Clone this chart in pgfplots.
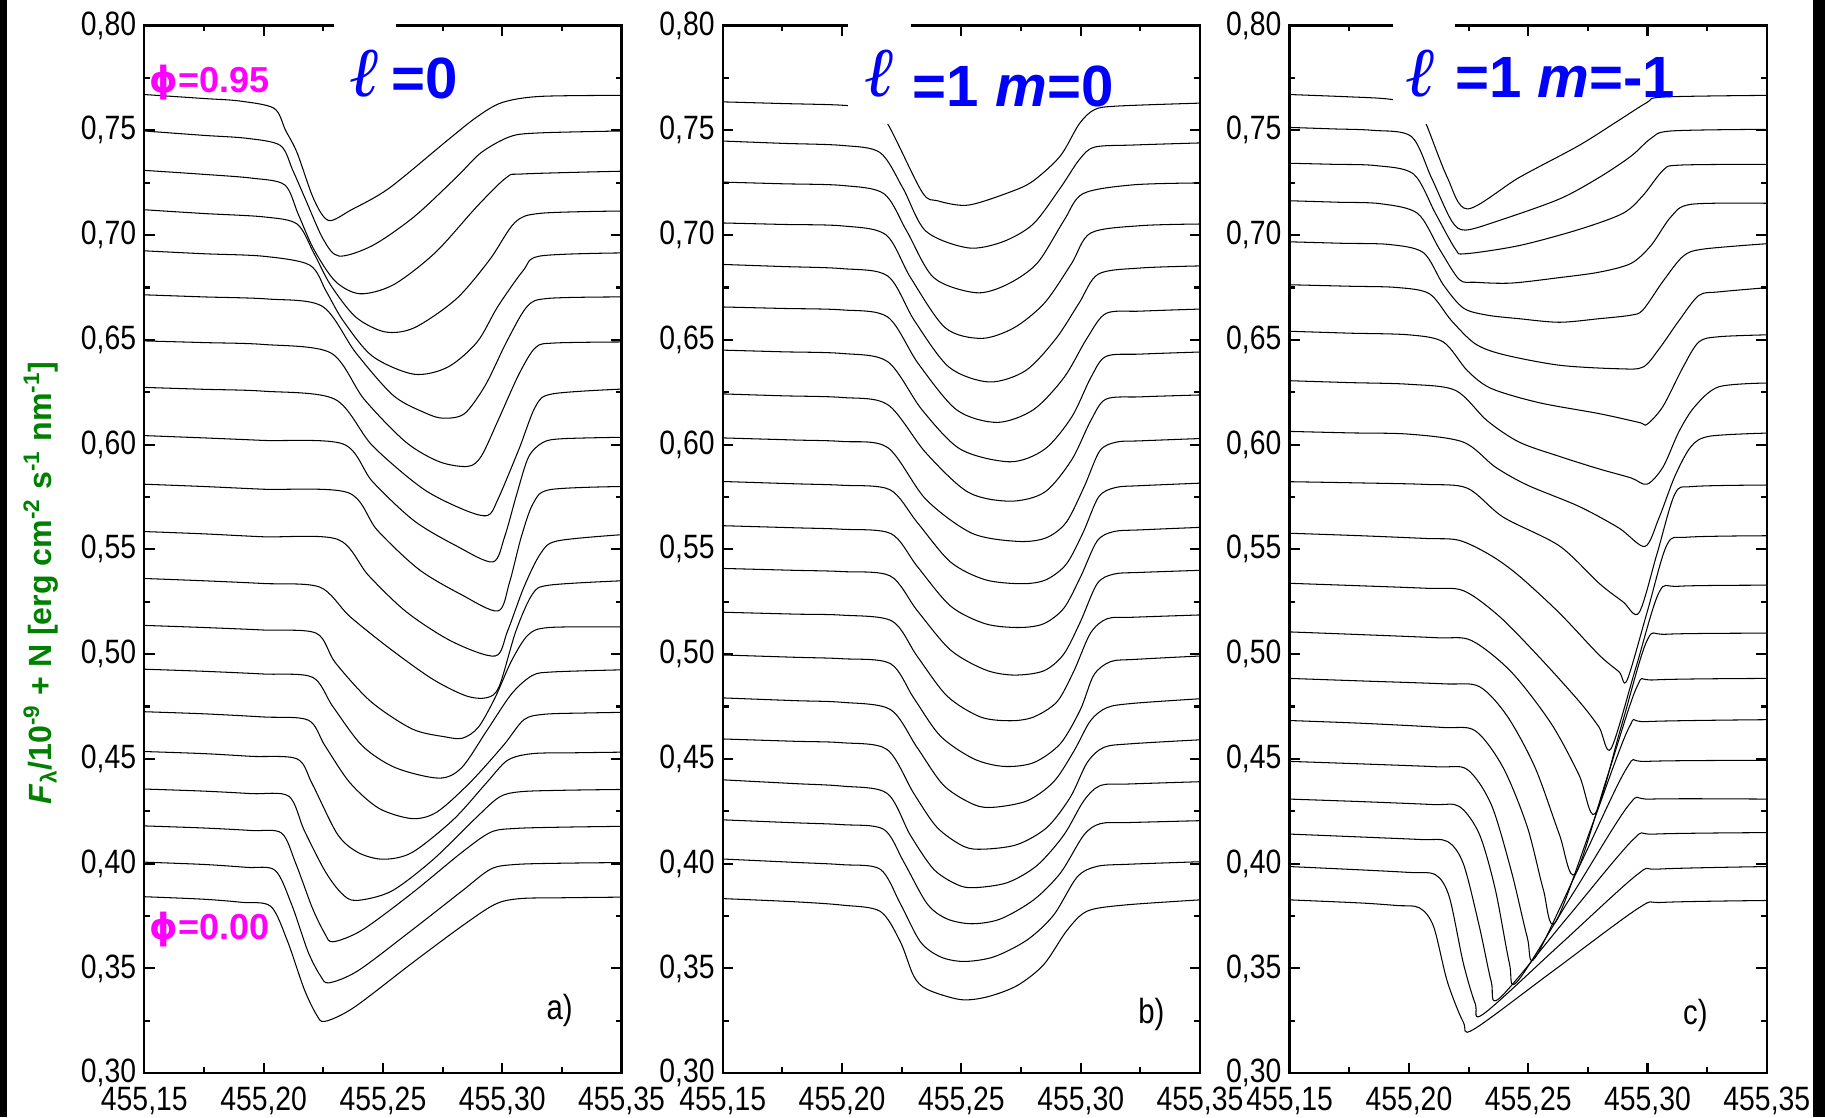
\documentclass[border=0pt]{standalone}
\usepackage{fontspec}
\setmainfont{Liberation Sans}[FakeStretch=0.84]
\newfontfamily\tf{Liberation Sans}
\newfontfamily\ellf{Liberation Serif}
\newfontfamily\djv{DejaVu Sans}
\usepackage{pgfplots}
\pgfplotsset{compat=1.18}
\definecolor{ylab}{RGB}{0,128,0}
\definecolor{mag}{RGB}{255,0,255}
\definecolor{tblue}{RGB}{0,0,255}
\pgfplotsset{
 panel/.style={
  scale only axis, width=205pt, height=450pt, anchor=south west,
  xmin=455.15, xmax=455.35, ymin=0.30, ymax=0.80,
  xtick={455.15,455.20,455.25,455.30,455.35},
  ytick={0.30,0.35,0.40,0.45,0.50,0.55,0.60,0.65,0.70,0.75,0.80},
  minor x tick num=1, minor y tick num=1,
  tick align=inside,
  major tick length=4.5pt, minor tick length=2.5pt,
  axis line style={line width=1pt},
  tick style={line width=0.9pt, black},
  scaled ticks=false,
  /pgf/number format/assume math mode=true,
  xticklabel style={yshift=-2.5pt, /pgf/number format/.cd, fixed, fixed zerofill, precision=2, use comma, 1000 sep={}},
  yticklabel style={/pgf/number format/.cd, fixed, fixed zerofill, precision=2, use comma},
  tick label style={font=\fontsize{14.5}{16}\selectfont},
 },
 prof/.style={black, line width=0.45pt, smooth, tension=0.5, mark=none},
}
\begin{document}
\begin{tikzpicture}
\path[use as bounding box] (0,0) rectangle (784pt,480pt);
\fill[black] (0,0) rectangle (3pt,480pt);
\fill[black] (779pt,0pt) rectangle (784pt,480pt);
% ---------------- panel a
\begin{axis}[panel, at={(62pt,19pt)}]
\addplot[prof] coordinates {(455.15,0.3842) (455.175,0.3830) (455.191,0.3815) (455.203,0.3796) (455.21,0.3630) (455.217,0.3401) (455.2222,0.3278) (455.2257,0.3247) (455.2378,0.3313) (455.2622,0.3525) (455.283,0.3701) (455.297,0.3806) (455.3074,0.3833) (455.325,0.3837) (455.35,0.3840)};
\addplot[prof] coordinates {(455.15,0.4007) (455.175,0.3996) (455.193,0.3982) (455.2048,0.3968) (455.2117,0.3806) (455.2187,0.3577) (455.2239,0.3463) (455.2274,0.3431) (455.2396,0.3489) (455.2622,0.3683) (455.283,0.3868) (455.2952,0.3974) (455.3057,0.3996) (455.325,0.4002) (455.35,0.4005)};
\addplot[prof] coordinates {(455.15,0.4180) (455.175,0.4170) (455.195,0.4158) (455.2075,0.4146) (455.2135,0.4000) (455.2204,0.3789) (455.2257,0.3665) (455.2291,0.3627) (455.2413,0.3683) (455.2622,0.3859) (455.283,0.4053) (455.2952,0.4150) (455.3057,0.4168) (455.325,0.4174) (455.35,0.4178)};
\addplot[prof] coordinates {(455.15,0.4356) (455.175,0.4346) (455.195,0.4334) (455.2105,0.4322) (455.217,0.4159) (455.2257,0.3965) (455.2326,0.3859) (455.2387,0.3824) (455.2535,0.3868) (455.2709,0.4018) (455.2883,0.4211) (455.2987,0.4317) (455.3074,0.4343) (455.325,0.4350) (455.35,0.4354)};
\addplot[prof] coordinates {(455.15,0.4535) (455.175,0.4525) (455.195,0.4512) (455.214,0.4500) (455.2204,0.4380) (455.2309,0.4141) (455.2396,0.4053) (455.25,0.4021) (455.2622,0.4053) (455.2796,0.4211) (455.2935,0.4387) (455.3022,0.4493) (455.3126,0.4525) (455.33,0.4529) (455.35,0.4532)};
\addplot[prof] coordinates {(455.15,0.4725) (455.175,0.4715) (455.2,0.4700) (455.2187,0.4685) (455.2257,0.4563) (455.2361,0.4387) (455.2483,0.4264) (455.2622,0.4215) (455.2726,0.4246) (455.2865,0.4387) (455.3004,0.4563) (455.3091,0.4687) (455.3178,0.4713) (455.335,0.4719) (455.35,0.4722)};
\addplot[prof] coordinates {(455.15,0.4928) (455.175,0.4918) (455.2,0.4905) (455.2204,0.4890) (455.2290,0.4750) (455.2413,0.4563) (455.2552,0.4458) (455.2735,0.4408) (455.283,0.4458) (455.2935,0.4634) (455.3039,0.4810) (455.3126,0.4898) (455.3213,0.4915) (455.35,0.4925)};
\addplot[prof] coordinates {(455.15,0.5137) (455.175,0.5127) (455.2,0.5115) (455.222,0.5100) (455.2300,0.4960) (455.2448,0.4775) (455.2622,0.4643) (455.2761,0.4605) (455.2834,0.4599) (455.29,0.4651) (455.297,0.4792) (455.3039,0.4968) (455.3109,0.5092) (455.3196,0.5127) (455.35,0.5130)};
\addplot[prof] coordinates {(455.15,0.5361) (455.175,0.5350) (455.2,0.5337) (455.2235,0.5320) (455.2361,0.5180) (455.2535,0.5021) (455.2709,0.4880) (455.2848,0.4801) (455.2935,0.4792) (455.2987,0.4845) (455.3057,0.5109) (455.3126,0.5285) (455.3196,0.5329) (455.35,0.5350)};
\addplot[prof] coordinates {(455.15,0.5585) (455.175,0.5574) (455.2,0.5560) (455.231,0.5548) (455.2440,0.5375) (455.2600,0.5200) (455.2790,0.5060) (455.2970,0.4991) (455.3022,0.5109) (455.3091,0.5320) (455.316,0.5479) (455.323,0.5540) (455.35,0.5570)};
\addplot[prof] coordinates {(455.15,0.5811) (455.175,0.5800) (455.2,0.5787) (455.2353,0.5771) (455.2476,0.5592) (455.265,0.5405) (455.2827,0.5285) (455.2982,0.5206) (455.3030,0.5340) (455.3080,0.5560) (455.3130,0.5720) (455.3200,0.5785) (455.35,0.5800)};
\addplot[prof] coordinates {(455.15,0.6043) (455.175,0.6032) (455.2,0.6020) (455.2333,0.6003) (455.2456,0.5824) (455.263,0.5637) (455.2807,0.5517) (455.296,0.5440) (455.3010,0.5560) (455.3060,0.5760) (455.3110,0.5940) (455.3170,0.6010) (455.3250,0.6028) (455.35,0.6035)};
\addplot[prof] coordinates {(455.15,0.6273) (455.175,0.6264) (455.2,0.6255) (455.2298,0.6217) (455.2456,0.5995) (455.2667,0.5790) (455.2842,0.5688) (455.2939,0.5662) (455.2982,0.5739) (455.307,0.5978) (455.314,0.6183) (455.321,0.6242) (455.35,0.6265)};
\addplot[prof] coordinates {(455.15,0.6495) (455.175,0.6487) (455.2,0.6478) (455.2281,0.6438) (455.2421,0.6217) (455.2596,0.6012) (455.2737,0.5918) (455.2856,0.5896) (455.2912,0.5944) (455.2982,0.6114) (455.307,0.6336) (455.314,0.6464) (455.322,0.6485) (455.35,0.6490)};
\addplot[prof] coordinates {(455.15,0.6715) (455.175,0.6705) (455.2018,0.6695) (455.2246,0.6660) (455.2386,0.6439) (455.2544,0.6234) (455.2680,0.6150) (455.2754,0.6126) (455.2842,0.6148) (455.293,0.6285) (455.3018,0.6490) (455.3105,0.6660) (455.3193,0.6698) (455.35,0.6705)};
\addplot[prof] coordinates {(455.15,0.6925) (455.175,0.6911) (455.2,0.6899) (455.2193,0.6857) (455.2263,0.6730) (455.2333,0.6592) (455.2456,0.6422) (455.263,0.6336) (455.2772,0.6370) (455.2895,0.6490) (455.2982,0.6660) (455.3088,0.6831) (455.3158,0.6900) (455.35,0.6915)};
\addplot[prof] coordinates {(455.15,0.7121) (455.175,0.7103) (455.2,0.7087) (455.214,0.7053) (455.221,0.6915) (455.228,0.6763) (455.2386,0.6609) (455.2509,0.6538) (455.2632,0.6558) (455.2807,0.6695) (455.2947,0.6882) (455.3053,0.7060) (455.316,0.7104) (455.35,0.7115)};
\addplot[prof] coordinates {(455.15,0.7309) (455.175,0.7290) (455.195,0.7272) (455.2088,0.7240) (455.2145,0.7100) (455.221,0.6933) (455.2300,0.6780) (455.2404,0.6720) (455.2544,0.6763) (455.2719,0.6916) (455.2895,0.7138) (455.3018,0.7275) (455.3088,0.7292) (455.35,0.7305)};
\addplot[prof] coordinates {(455.15,0.7497) (455.175,0.7476) (455.193,0.7462) (455.207,0.7428) (455.2122,0.7310) (455.2175,0.7172) (455.2250,0.6980) (455.2316,0.6900) (455.2456,0.6950) (455.263,0.7087) (455.2807,0.7275) (455.2912,0.7394) (455.3035,0.7471) (455.316,0.7488) (455.35,0.7497)};
\addplot[prof] coordinates {(455.15,0.7671) (455.175,0.7652) (455.19,0.7640) (455.2044,0.7605) (455.2092,0.7500) (455.214,0.7394) (455.221,0.7172) (455.2272,0.7070) (455.2368,0.7121) (455.2526,0.7224) (455.2772,0.7454) (455.2895,0.7565) (455.30,0.7633) (455.3158,0.7662) (455.35,0.7667)};
\end{axis}
% ---------------- panel b
\begin{axis}[panel, at={(310.5pt,19pt)}]
\addplot[prof] coordinates {(455.15,0.3833) (455.18,0.3818) (455.2,0.3802) (455.2160,0.3772) (455.2244,0.3627) (455.23,0.3464) (455.2356,0.3400) (455.2496,0.3351) (455.2608,0.3364) (455.2734,0.3418) (455.2845,0.3518) (455.2943,0.3682) (455.3027,0.3773) (455.318,0.3802) (455.35,0.3827)};
\addplot[prof] coordinates {(455.15,0.4022) (455.18,0.4006) (455.2,0.3995) (455.216,0.3973) (455.2244,0.3809) (455.2328,0.3627) (455.2412,0.3555) (455.251,0.3533) (455.2636,0.3555) (455.2776,0.3636) (455.2887,0.3755) (455.2985,0.3936) (455.3069,0.3987) (455.32,0.3997) (455.35,0.4009)};
\addplot[prof] coordinates {(455.15,0.4209) (455.18,0.4195) (455.2,0.4186) (455.2174,0.4164) (455.2258,0.4009) (455.2356,0.3809) (455.244,0.3736) (455.2545,0.3713) (455.2664,0.3736) (455.2803,0.3827) (455.2915,0.3955) (455.3013,0.4136) (455.3083,0.4191) (455.32,0.4196) (455.35,0.4205)};
\addplot[prof] coordinates {(455.15,0.4400) (455.18,0.4382) (455.2,0.4370) (455.2188,0.4336) (455.2286,0.4136) (455.2384,0.3973) (455.2482,0.3900) (455.2552,0.3885) (455.2692,0.3909) (455.2817,0.3991) (455.2929,0.4136) (455.3013,0.4300) (455.3083,0.4373) (455.32,0.4380) (455.35,0.4391)};
\addplot[prof] coordinates {(455.15,0.4595) (455.18,0.4584) (455.2,0.4577) (455.2188,0.4545) (455.23,0.4336) (455.2398,0.4173) (455.251,0.4082) (455.2594,0.4069) (455.2734,0.4091) (455.2859,0.4173) (455.2957,0.4318) (455.3027,0.4482) (455.3097,0.4555) (455.321,0.4572) (455.35,0.4591)};
\addplot[prof] coordinates {(455.15,0.4791) (455.18,0.4778) (455.2,0.4770) (455.2202,0.4736) (455.2314,0.4555) (455.2426,0.4373) (455.2552,0.4282) (455.2636,0.4269) (455.2776,0.4300) (455.2887,0.4391) (455.2971,0.4536) (455.3041,0.4682) (455.3111,0.4745) (455.322,0.4765) (455.35,0.4787)};
\addplot[prof] coordinates {(455.15,0.4996) (455.18,0.4985) (455.2,0.4978) (455.2202,0.4955) (455.23,0.4791) (455.2412,0.4609) (455.2552,0.4500) (455.2678,0.4464) (455.2803,0.4482) (455.2915,0.4573) (455.2999,0.4736) (455.3055,0.4900) (455.3125,0.4964) (455.323,0.4975) (455.35,0.4991)};
\addplot[prof] coordinates {(455.15,0.5200) (455.18,0.5191) (455.2,0.5186) (455.2209,0.5158) (455.2314,0.4991) (455.244,0.4800) (455.258,0.4700) (455.2706,0.4682) (455.2803,0.4700) (455.2901,0.4773) (455.2971,0.4918) (455.3041,0.5100) (455.3111,0.5169) (455.322,0.5176) (455.35,0.5187)};
\addplot[prof] coordinates {(455.15,0.5409) (455.18,0.5400) (455.2,0.5394) (455.2202,0.5373) (455.2314,0.5209) (455.2454,0.5020) (455.2600,0.4925) (455.2720,0.4900) (455.2845,0.4920) (455.2929,0.5000) (455.2999,0.5155) (455.3069,0.5336) (455.3139,0.5382) (455.325,0.5390) (455.35,0.5400)};
\addplot[prof] coordinates {(455.15,0.5613) (455.18,0.5603) (455.2,0.5596) (455.2205,0.5575) (455.2314,0.5420) (455.2454,0.5230) (455.26,0.5145) (455.274,0.5127) (455.2845,0.5145) (455.293,0.5220) (455.30,0.5370) (455.3069,0.5540) (455.3139,0.5585) (455.325,0.5593) (455.35,0.5605)};
\addplot[prof] coordinates {(455.15,0.5824) (455.18,0.5813) (455.2,0.5806) (455.22,0.5785) (455.2314,0.5630) (455.2454,0.5440) (455.26,0.5355) (455.2755,0.5336) (455.2855,0.5355) (455.294,0.5430) (455.301,0.5580) (455.3075,0.5750) (455.3145,0.5795) (455.325,0.5804) (455.35,0.5816)};
\addplot[prof] coordinates {(455.15,0.6032) (455.18,0.6022) (455.2,0.6015) (455.2191,0.5986) (455.2351,0.5739) (455.2544,0.5577) (455.2737,0.5538) (455.2855,0.5555) (455.294,0.5630) (455.3015,0.5800) (455.308,0.5970) (455.315,0.6012) (455.325,0.6018) (455.35,0.6029)};
\addplot[prof] coordinates {(455.15,0.6242) (455.175,0.6233) (455.2,0.6225) (455.2191,0.6191) (455.2351,0.5961) (455.2528,0.5773) (455.2705,0.5730) (455.2849,0.5773) (455.2962,0.5927) (455.3042,0.6114) (455.3106,0.6217) (455.325,0.6228) (455.35,0.6237)};
\addplot[prof] coordinates {(455.15,0.6451) (455.175,0.6443) (455.2,0.6435) (455.2191,0.6396) (455.2335,0.6166) (455.2496,0.5978) (455.2705,0.5918) (455.2849,0.5978) (455.2962,0.6131) (455.3042,0.6319) (455.3106,0.6421) (455.325,0.6432) (455.35,0.6442)};
\addplot[prof] coordinates {(455.15,0.6657) (455.175,0.6650) (455.2,0.6643) (455.2191,0.6609) (455.2319,0.6387) (455.248,0.6166) (455.2649,0.6106) (455.2801,0.6166) (455.293,0.6320) (455.3026,0.6507) (455.3106,0.6626) (455.325,0.6637) (455.35,0.6647)};
\addplot[prof] coordinates {(455.15,0.6860) (455.175,0.6850) (455.2,0.6840) (455.2191,0.6805) (455.2303,0.6592) (455.2448,0.6370) (455.2616,0.6299) (455.2769,0.6353) (455.2897,0.6507) (455.2994,0.6677) (455.3074,0.6814) (455.325,0.6843) (455.35,0.6853)};
\addplot[prof] coordinates {(455.15,0.7058) (455.175,0.7051) (455.2,0.7044) (455.2183,0.7002) (455.2287,0.6797) (455.2432,0.6558) (455.2584,0.6507) (455.2721,0.6558) (455.2849,0.6677) (455.2962,0.6865) (455.3042,0.7010) (455.325,0.7045) (455.35,0.7053)};
\addplot[prof] coordinates {(455.15,0.7253) (455.175,0.7245) (455.2,0.7237) (455.2175,0.7198) (455.2271,0.7019) (455.2384,0.6797) (455.256,0.6725) (455.2689,0.6763) (455.2817,0.6865) (455.293,0.7070) (455.301,0.7198) (455.322,0.7240) (455.35,0.7249)};
\addplot[prof] coordinates {(455.15,0.7449) (455.175,0.7438) (455.2,0.7428) (455.2159,0.7394) (455.2255,0.7224) (455.2351,0.7019) (455.2528,0.6939) (455.2673,0.6968) (455.2801,0.7053) (455.2914,0.7224) (455.2994,0.7360) (455.3058,0.7420) (455.322,0.7430) (455.35,0.7440)};
\addplot[prof] coordinates {(455.15,0.7636) (455.175,0.7628) (455.2,0.7620) (455.212,0.7600) (455.2191,0.7531) (455.2335,0.7206) (455.24,0.7164) (455.2528,0.7143) (455.2705,0.7206) (455.28,0.7258) (455.2914,0.7377) (455.2994,0.7531) (455.3058,0.7599) (455.3155,0.7616) (455.35,0.7630)};
\end{axis}
% ---------------- panel c
\begin{axis}[panel, at={(554pt,19pt)}]
\addplot[prof] coordinates {(455.15,0.3827) (455.18,0.3812) (455.195,0.3800) (455.2044,0.3789) (455.2103,0.3701) (455.2161,0.3437) (455.2228,0.3243) (455.227,0.3208) (455.26,0.3484) (455.2964,0.3789) (455.3065,0.3815) (455.35,0.3824)};
\addplot[prof] coordinates {(455.15,0.3986) (455.18,0.3970) (455.2,0.3958) (455.2111,0.3947) (455.2169,0.3842) (455.2228,0.3525) (455.2278,0.3331) (455.2312,0.3282) (455.263,0.3610) (455.2956,0.3947) (455.3048,0.3974) (455.35,0.3986)};
\addplot[prof] coordinates {(455.15,0.4141) (455.18,0.4127) (455.205,0.4115) (455.2161,0.4106) (455.2228,0.4000) (455.2295,0.3701) (455.2345,0.3437) (455.2379,0.3357) (455.266,0.3737) (455.2939,0.4114) (455.3031,0.4141) (455.35,0.4148)};
\addplot[prof] coordinates {(455.15,0.4308) (455.18,0.4296) (455.21,0.4282) (455.2211,0.4273) (455.2295,0.4141) (455.2362,0.3877) (455.2421,0.3525) (455.2454,0.3437) (455.269,0.3862) (455.2923,0.4282) (455.3015,0.4308) (455.35,0.4308)};
\addplot[prof] coordinates {(455.15,0.4488) (455.18,0.4476) (455.212,0.4462) (455.2245,0.4449) (455.2345,0.4282) (455.2429,0.3965) (455.2496,0.3648) (455.2529,0.3551) (455.272,0.4001) (455.2914,0.4458) (455.2998,0.4488) (455.35,0.4493)};
\addplot[prof] coordinates {(455.15,0.4683) (455.18,0.4670) (455.214,0.4650) (455.2278,0.4634) (455.2395,0.4458) (455.2496,0.4176) (455.2563,0.3877) (455.2613,0.3718) (455.277,0.4190) (455.2923,0.4651) (455.2998,0.4678) (455.35,0.4687)};
\addplot[prof] coordinates {(455.15,0.4884) (455.18,0.4872) (455.215,0.4858) (455.2295,0.4845) (455.2412,0.4704) (455.2529,0.4458) (455.263,0.4141) (455.2697,0.3951) (455.283,0.4410) (455.2956,0.4845) (455.3031,0.4877) (455.35,0.4884)};
\addplot[prof] coordinates {(455.15,0.5106) (455.18,0.5093) (455.212,0.5078) (455.2262,0.5065) (455.2429,0.4915) (455.2596,0.4669) (455.2713,0.4423) (455.278,0.4238) (455.289,0.4655) (455.2998,0.5065) (455.3082,0.5095) (455.35,0.5100)};
\addplot[prof] coordinates {(455.15,0.5338) (455.18,0.5326) (455.208,0.5314) (455.2228,0.5303) (455.2379,0.5180) (455.2546,0.4986) (455.2713,0.4775) (455.2797,0.4651) (455.2847,0.4549) (455.295,0.4931) (455.3048,0.5294) (455.3132,0.5324) (455.35,0.5329)};
\addplot[prof] coordinates {(455.15,0.5577) (455.18,0.5565) (455.207,0.5552) (455.2211,0.5543) (455.2345,0.5470) (455.2462,0.5373) (455.263,0.5197) (455.2797,0.4996) (455.2881,0.4915) (455.2914,0.4875) (455.30,0.5207) (455.3082,0.5523) (455.3165,0.5558) (455.35,0.5565)};
\addplot[prof] coordinates {(455.15,0.5823) (455.18,0.5817) (455.207,0.5810) (455.2245,0.5792) (455.2395,0.5654) (455.263,0.5517) (455.2797,0.5338) (455.2897,0.5250) (455.2964,0.5197) (455.304,0.5480) (455.3115,0.5765) (455.319,0.5800) (455.35,0.5807)};
\addplot[prof] coordinates {(455.15,0.6063) (455.175,0.6056) (455.2,0.6050) (455.2228,0.6012) (455.2362,0.5893) (455.2496,0.5807) (455.2713,0.5705) (455.288,0.5602) (455.2989,0.5514) (455.3048,0.5650) (455.3115,0.5850) (455.3182,0.5990) (455.3260,0.6040) (455.35,0.6055)};
\addplot[prof] coordinates {(455.15,0.6305) (455.175,0.6296) (455.2,0.6288) (455.2195,0.6259) (455.2328,0.6114) (455.2462,0.6012) (455.263,0.5944) (455.2797,0.5884) (455.2931,0.5841) (455.2998,0.5811) (455.3065,0.5893) (455.3132,0.6063) (455.3199,0.6183) (455.3299,0.6276) (455.35,0.6294)};
\addplot[prof] coordinates {(455.15,0.6541) (455.175,0.6532) (455.2,0.6524) (455.2144,0.6490) (455.2245,0.6353) (455.2345,0.6268) (455.2546,0.6200) (455.2797,0.6148) (455.2964,0.6106) (455.2998,0.6097) (455.3065,0.6183) (455.3149,0.6370) (455.3215,0.6490) (455.3299,0.6515) (455.35,0.6524)};
\addplot[prof] coordinates {(455.15,0.6763) (455.175,0.6756) (455.195,0.6750) (455.2086,0.6720) (455.2178,0.6592) (455.2278,0.6481) (455.2395,0.6430) (455.263,0.6379) (455.288,0.6362) (455.2981,0.6370) (455.3048,0.6456) (455.3132,0.6592) (455.3215,0.6712) (455.3299,0.6729) (455.35,0.6749)};
\addplot[prof] coordinates {(455.15,0.6968) (455.172,0.6961) (455.192,0.6955) (455.2061,0.6916) (455.2144,0.6763) (455.2228,0.6652) (455.2328,0.6618) (455.2462,0.6601) (455.263,0.6584) (455.2797,0.6601) (455.2931,0.6618) (455.2981,0.6643) (455.3065,0.6780) (455.3149,0.6899) (455.3232,0.6933) (455.35,0.6959)};
\addplot[prof] coordinates {(455.15,0.7164) (455.17,0.7157) (455.188,0.7150) (455.2036,0.7104) (455.2128,0.6933) (455.2211,0.6788) (455.2278,0.6775) (455.2429,0.6771) (455.263,0.6797) (455.2797,0.6823) (455.2931,0.6865) (455.3015,0.6951) (455.3098,0.7087) (455.3182,0.7147) (455.35,0.7152)};
\addplot[prof] coordinates {(455.15,0.7343) (455.168,0.7338) (455.186,0.7332) (455.2019,0.7292) (455.2111,0.7104) (455.2195,0.6933) (455.2236,0.6911) (455.2462,0.6950) (455.2713,0.7027) (455.2897,0.7104) (455.2981,0.7189) (455.3065,0.7309) (455.3132,0.7334) (455.35,0.7338)};
\addplot[prof] coordinates {(455.15,0.7514) (455.168,0.7507) (455.185,0.7500) (455.201,0.7471) (455.2094,0.7275) (455.2178,0.7070) (455.2236,0.7024) (455.2379,0.7070) (455.263,0.7172) (455.2797,0.7275) (455.2931,0.7377) (455.3015,0.7462) (455.3098,0.7497) (455.35,0.7505)};
\addplot[prof] coordinates {(455.15,0.7671) (455.175,0.7660) (455.191,0.7650) (455.203,0.7622) (455.2072,0.7531) (455.2161,0.7275) (455.2245,0.7125) (455.2462,0.7275) (455.2713,0.7428) (455.288,0.7548) (455.2998,0.7633) (455.3065,0.7659) (455.35,0.7667)};
\end{axis}
% white boxes behind the l symbols
\fill[white] (143.5pt,426.7pt) rectangle (170.2pt,474pt);
\fill[white] (364.3pt,426.7pt) rectangle (391.5pt,474pt);
\fill[white] (598.3pt,426.7pt) rectangle (625.2pt,474pt);
% titles
\node[anchor=base, text=tblue, inner sep=0] at (157pt,438.5pt) {\ellf\bfseries\itshape\fontsize{30}{34}\selectfont ℓ};
\node[anchor=base east, text=tblue, inner sep=0] at (197pt,437.5pt) {\tf\bfseries\fontsize{25}{30}\selectfont =0};
\node[anchor=base, text=tblue, inner sep=0] at (378pt,438.5pt) {\ellf\bfseries\itshape\fontsize{30}{34}\selectfont ℓ};
\node[anchor=base west, text=tblue, inner sep=0] at (392pt,434.4pt) {\tf\bfseries\fontsize{25}{30}\selectfont =1 \textit{m}=0};
\node[anchor=base, text=tblue, inner sep=0] at (610.75pt,438.5pt) {\ellf\bfseries\itshape\fontsize{30}{34}\selectfont ℓ};
\node[anchor=base west, text=tblue, inner sep=0] at (625pt,438.3pt) {\tf\bfseries\fontsize{25}{30}\selectfont =1 \textit{m}=-1};
% phase labels
\node[anchor=base west, text=mag, inner sep=0] at (64pt,440.3pt) {\tf\bfseries\fontsize{15.5}{18}\selectfont{\djv\bfseries ϕ}=0.95};
\node[anchor=base west, text=mag, inner sep=0] at (64pt,76.5pt) {\tf\bfseries\fontsize{15.5}{18}\selectfont{\djv\bfseries ϕ}=0.00};
% panel letters
\node[inner sep=0] at (240.4pt,46pt) {\fontsize{15}{17}\selectfont a)};
\node[inner sep=0] at (494.6pt,44.2pt) {\fontsize{15}{17}\selectfont b)};
\node[inner sep=0] at (728.3pt,43.8pt) {\fontsize{15}{17}\selectfont c)};
% y label
\node[rotate=90, anchor=base, text=ylab, inner sep=0] at (22pt,229.6pt) {\tf\bfseries\fontsize{13.8}{16}\selectfont \textit{F}\textsubscript{λ}/10\textsuperscript{-9} + N [erg cm\textsuperscript{-2} s\textsuperscript{-1} nm\textsuperscript{-1}]};
\end{tikzpicture}
\end{document}
